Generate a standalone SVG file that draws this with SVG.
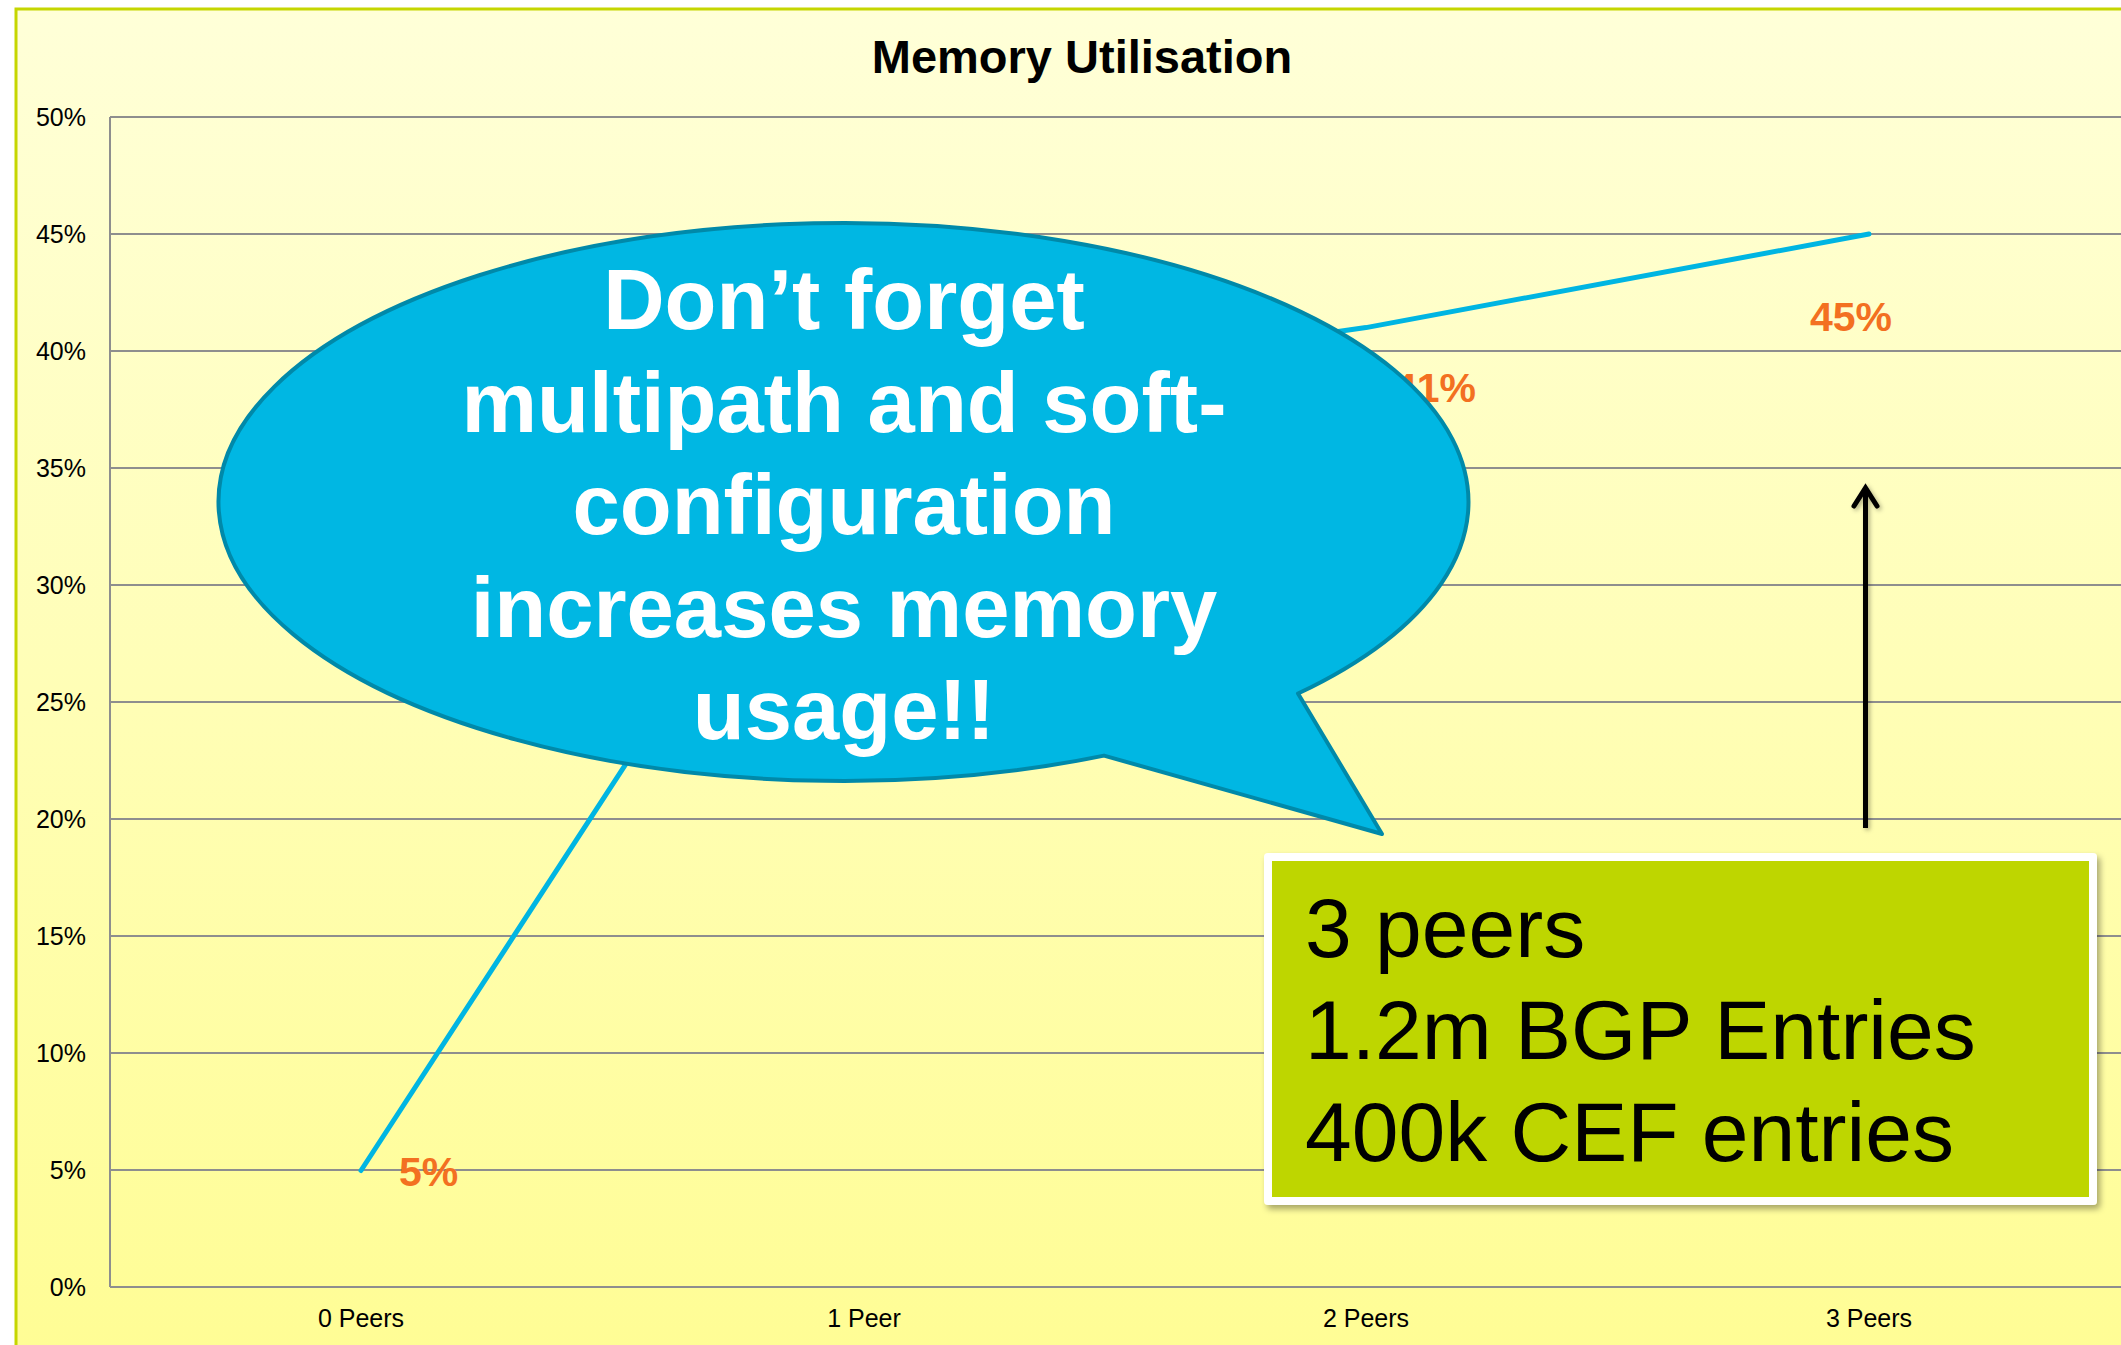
<svg xmlns="http://www.w3.org/2000/svg" width="2121" height="1345" viewBox="0 0 2121 1345">
  <defs>
    <linearGradient id="bg" x1="0" y1="0" x2="0" y2="1">
      <stop offset="0" stop-color="#FFFFD8"/>
      <stop offset="1" stop-color="#FFFD94"/>
    </linearGradient>
    <filter id="shadow" x="-5%" y="-5%" width="110%" height="115%">
      <feDropShadow dx="3" dy="4" stdDeviation="3" flood-color="#000" flood-opacity="0.35"/>
    </filter>
    <filter id="ashadow" x="-50%" y="-5%" width="200%" height="110%">
      <feDropShadow dx="2" dy="2" stdDeviation="2" flood-color="#000" flood-opacity="0.3"/>
    </filter>
    <style>
      .grid { stroke: #8E8E8E; stroke-width: 2; fill: none; }
      .ylab { font-family: "Liberation Sans", Arial, sans-serif; font-size: 25px; fill: #000; text-anchor: end; }
      .xlab { font-family: "Liberation Sans", Arial, sans-serif; font-size: 25px; fill: #000; text-anchor: middle; }
      .dlab { font-family: "Liberation Sans", Arial, sans-serif; font-size: 41px; font-weight: bold; fill: #F37021; }
      .title { font-family: "Liberation Sans", Arial, sans-serif; font-size: 47px; font-weight: bold; fill: #000; text-anchor: middle; }
      .btext { font-family: "Liberation Sans", Arial, sans-serif; font-size: 85px; font-weight: bold; fill: #FFFFFF; text-anchor: middle; }
      .gtext { font-family: "Liberation Sans", Arial, sans-serif; font-size: 84px; fill: #000; }
    </style>
  </defs>

  <rect x="0" y="0" width="2121" height="1345" fill="#FFFFFF"/>
  <g id="chart">
    <rect x="16" y="9" width="2130" height="1360" fill="url(#bg)" stroke="#C5D600" stroke-width="3"/>
    <text class="title" x="1082" y="73">Memory Utilisation</text>
    <g id="gridlines">
      <line class="grid" x1="110" y1="117" x2="2121" y2="117"/>
      <line class="grid" x1="110" y1="234" x2="2121" y2="234"/>
      <line class="grid" x1="110" y1="351" x2="2121" y2="351"/>
      <line class="grid" x1="110" y1="468" x2="2121" y2="468"/>
      <line class="grid" x1="110" y1="585" x2="2121" y2="585"/>
      <line class="grid" x1="110" y1="702" x2="2121" y2="702"/>
      <line class="grid" x1="110" y1="819" x2="2121" y2="819"/>
      <line class="grid" x1="110" y1="936" x2="2121" y2="936"/>
      <line class="grid" x1="110" y1="1053" x2="2121" y2="1053"/>
      <line class="grid" x1="110" y1="1170" x2="2121" y2="1170"/>
      <line class="grid" x1="110" y1="1287" x2="2121" y2="1287"/>
      <line class="grid" x1="110" y1="117" x2="110" y2="1287"/>
    </g>
    <g id="yaxis">
      <text class="ylab" x="86" y="126">50%</text>
      <text class="ylab" x="86" y="243">45%</text>
      <text class="ylab" x="86" y="360">40%</text>
      <text class="ylab" x="86" y="477">35%</text>
      <text class="ylab" x="86" y="594">30%</text>
      <text class="ylab" x="86" y="711">25%</text>
      <text class="ylab" x="86" y="828">20%</text>
      <text class="ylab" x="86" y="945">15%</text>
      <text class="ylab" x="86" y="1062">10%</text>
      <text class="ylab" x="86" y="1179">5%</text>
      <text class="ylab" x="86" y="1296">0%</text>
    </g>
    <g id="xaxis">
      <text class="xlab" x="361" y="1327">0 Peers</text>
      <text class="xlab" x="864" y="1327">1 Peer</text>
      <text class="xlab" x="1366" y="1327">2 Peers</text>
      <text class="xlab" x="1869" y="1327">3 Peers</text>
    </g>
    <polyline id="series" points="361,1170.5 864,398.5 1366,327.6 1869,234" fill="none" stroke="#00B5E2" stroke-width="5" stroke-linecap="round" stroke-linejoin="round"/>
    <g id="datalabels">
      <text class="dlab" x="399" y="1186">5%</text>
      <text class="dlab" x="1394" y="402">41%</text>
      <text class="dlab" x="1810" y="331">45%</text>
    </g>
  </g>

  <g id="bubble">
    <path d="M 1298 693.5 A 625 279 0 1 0 1104 755.6 L 1382 834 Z" fill="#00B7E3" stroke="#0089A9" stroke-width="4" stroke-linejoin="round"/>
    <text class="btext" x="844" y="329">Don’t forget</text>
    <text class="btext" x="844" y="431.5">multipath and soft-</text>
    <text class="btext" x="844" y="534">configuration</text>
    <text class="btext" x="844" y="636.5">increases memory</text>
    <text class="btext" x="844" y="739">usage!!</text>
  </g>

  <g id="infobox">
    <rect x="1264" y="853" width="833" height="352" rx="4" fill="#FFFFFF" filter="url(#shadow)"/>
    <rect x="1272" y="861" width="817" height="336" fill="#BED600"/>
    <text class="gtext" x="1305" y="957">3 peers</text>
    <text class="gtext" x="1305" y="1059">1.2m BGP Entries</text>
    <text class="gtext" x="1305" y="1161">400k CEF entries</text>
  </g>

  <g id="connectors" filter="url(#ashadow)">
    <line x1="1865.5" y1="828" x2="1865.5" y2="490" stroke="#000" stroke-width="5"/>
    <polyline points="1854,506 1865.5,488 1877,506" fill="none" stroke="#000" stroke-width="5" stroke-linecap="round" stroke-linejoin="miter"/>
  </g>
</svg>
